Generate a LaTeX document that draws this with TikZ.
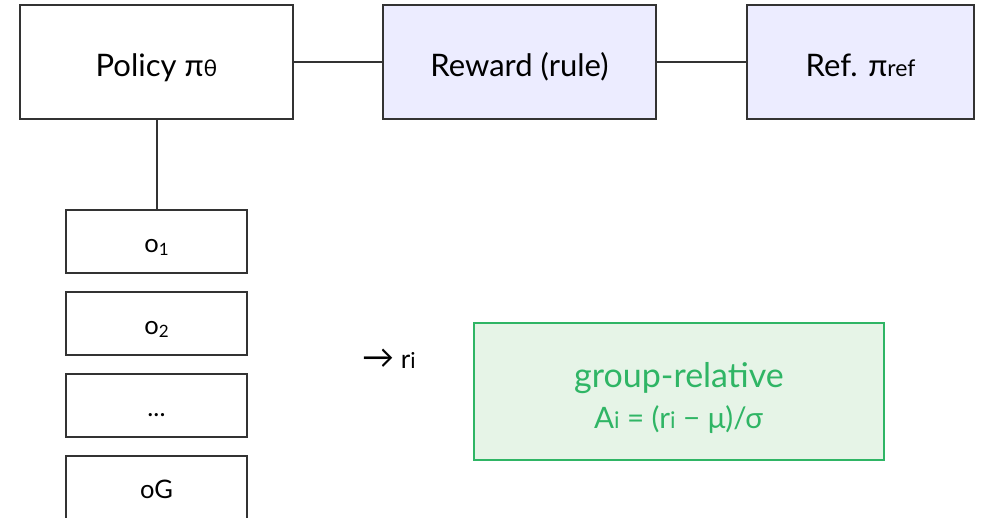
\documentclass[tikz,border=0pt]{standalone}
\usepackage{fontspec}
\setmainfont{Lato}
\definecolor{edge}{HTML}{333333}
\definecolor{lav}{HTML}{ECECFF}
\definecolor{grfill}{HTML}{E6F4E7}
\definecolor{grline}{HTML}{2FB565}
% smaller run of letters sitting on the baseline (for sub-indices)
\newcommand{\lowtxt}[2]{{\fontsize{#1}{#1}\selectfont #2}}
\newcommand{\subdigit}[1]{\raisebox{-3pt}{\fontsize{17}{17}\selectfont #1}}
\tikzset{
  box/.style={draw=edge, line width=2pt, inner sep=0pt, outer sep=0pt, align=center, text depth=0pt},
  bigbox/.style={box, minimum height=114pt, text height=28pt, font=\fontsize{31}{36}\selectfont},
  smallbox/.style={box, fill=white, minimum width=181pt, minimum height=63pt, text height=22pt,
                   font=\fontsize{25.5}{28}\selectfont},
  link/.style={draw=edge, line width=2pt},
  greentext/.style={text=grline, inner sep=0pt, anchor=base},
}
\begin{document}
\begin{tikzpicture}[x=1pt, y=1pt]
\useasboundingbox (0,0) rectangle (982,-517);
\fill[white] (0,0) rectangle (982,-517);
% top row
\node[bigbox, minimum width=273pt] (policy) at (156.5,-62) {Policy π\lowtxt{23}{θ}};
\node[bigbox, fill=lav, minimum width=273pt] (reward) at (519.5,-62) {Reward (rule)};
\node[bigbox, fill=lav, minimum width=227pt] (ref) at (860.5,-62) {Ref. π\lowtxt{23}{ref}};
\draw[link] (policy.east) -- (reward.west);
\draw[link] (reward.east) -- (ref.west);
% sampled group of outputs
\node[smallbox] (o1) at (156.5,-241.5) {o\subdigit{1}};
\node[smallbox] (o2) at (156.5,-323.5) {o\subdigit{2}};
\node[smallbox] (odots) at (156.5,-405.5) {...};
\node[smallbox] (oG) at (156.5,-487.5) {oG};
\draw[link] (policy.south) -- (o1.north);
% reward per output
\node[anchor=base west, inner sep=0pt, font=\fontsize{26}{30}\selectfont] (ri) at (362,-368)
  {{\fontsize{32}{32}\selectfont →} r\lowtxt{22}{i}};
% group-relative advantage
\node[draw=grline, fill=grfill, line width=2pt, minimum width=410pt, minimum height=137pt,
      inner sep=0pt] (adv) at (679,-391.5) {};
\node[greentext, font=\fontsize{34}{40}\selectfont] (advtitle) at (679,-387) {group-relative};
\node[greentext, font=\fontsize{29.5}{34}\selectfont] (advformula) at (678.5,-428)
  {A\lowtxt{23}{i} = (r\lowtxt{23}{i} − μ)/σ};
\end{tikzpicture}
\end{document}
